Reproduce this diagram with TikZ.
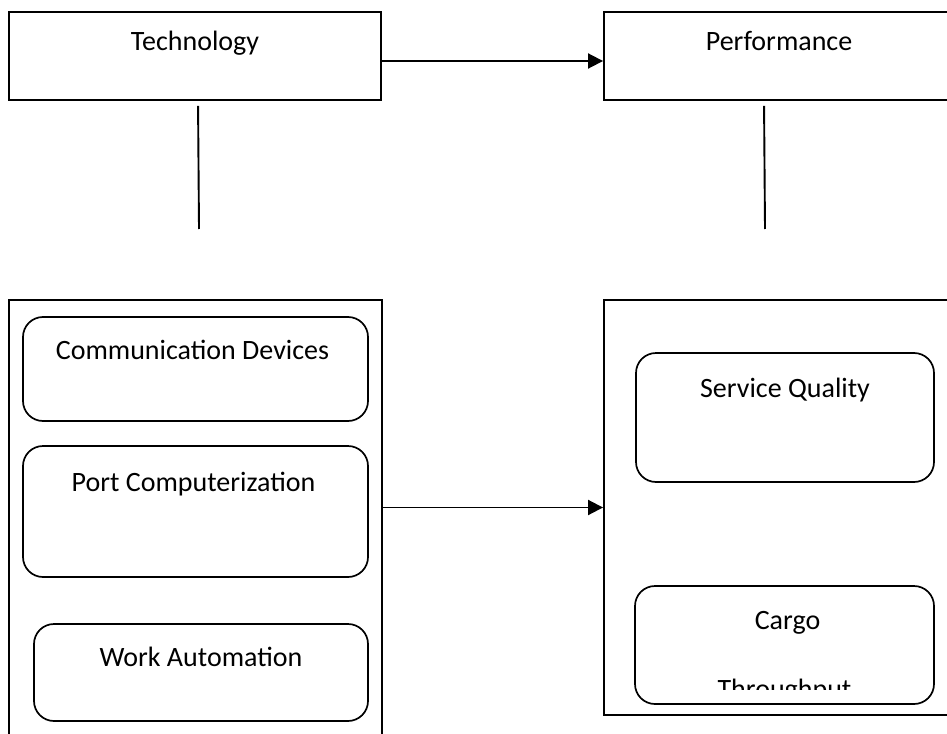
\documentclass[tikz,border=0pt]{standalone}
\usepackage{fontspec}
\setmainfont{Carlito}
\usetikzlibrary{arrows.meta, positioning, calc}

\begin{document}
\begin{tikzpicture}[x=1pt, y=-1pt, >={Triangle[length=15pt, width=15pt]},
    frame/.style={draw, line width=1.9pt, inner sep=0pt},
    pill/.style={draw, line width=1.7pt, rounded corners=20pt, inner sep=0pt},
    word/.style={anchor=base, inner sep=0pt, font=\fontsize{28}{33}\selectfont},
    arr/.style={->, line width=1.9pt}]
  \useasboundingbox (0,0) rectangle (947,733);

  % Top row
  \node[frame, minimum width=372pt, minimum height=88pt] (tech) at (195,56) {};
  \node[frame, minimum width=396pt, minimum height=88pt] (perf) at (802,56) {};
  \node[word] (techtxt) at ([yshift=-39pt]tech.north) {Technology};
  \node[word] (perftxt) at ([xshift=176pt, yshift=-39pt]perf.north west) {Performance};

  \draw[arr] ([yshift=-5pt]tech.east) -- ([yshift=-5pt]perf.west);

  % Stubs under the top boxes
  \coordinate (techtail) at (199,229);
  \coordinate (perftail) at (765,229);
  \draw[line width=1.9pt] (tech.south west) ++(190,5) -- (techtail);
  \draw[line width=1.9pt] (perf.south west) ++(161,5) -- (perftail);

  % Technology group
  \node[frame, minimum width=373pt, minimum height=460pt] (techgrp) at (195.5,530) {};
  \node[pill, minimum width=345pt, minimum height=104pt] (comm) at (195.5,369) {};
  \node[pill, minimum width=345pt, minimum height=131pt] (comp) at (195.5,511.5) {};
  \node[pill, minimum width=334pt, minimum height=97pt] (work) at (201,672.5) {};
  \node[word] (commtxt) at ([xshift=-3pt, yshift=-43pt]comm.north) {Communication Devices};
  \node[word] (comptxt) at ([xshift=-2pt, yshift=-46pt]comp.north) {Port Computerization};
  \node[word] (worktxt) at ([yshift=-43pt]work.north) {Work Automation};

  % Performance group
  \node[frame, minimum width=396pt, minimum height=415pt] (perfgrp) at (802,507.5) {};
  \node[pill, minimum width=298pt, minimum height=129pt] (qual) at (785,417.5) {};
  \node[pill, minimum width=299pt, minimum height=118pt] (cargo) at (784.5,645) {};
  \node[word] (qualtxt) at ([yshift=-45pt]qual.north) {Service Quality};
  \node[word] (cargotxt) at ([xshift=3pt, yshift=-44pt]cargo.north) {Cargo};
  \begin{scope}
    \clip (600,0) rectangle (947,689);
    \node[word] (thrutxt) at ([yshift=-113pt]cargo.north) {Throughput};
  \end{scope}

  \draw[arr] (techgrp.east |- perfgrp.west) -- (perfgrp.west);
\end{tikzpicture}
\end{document}
